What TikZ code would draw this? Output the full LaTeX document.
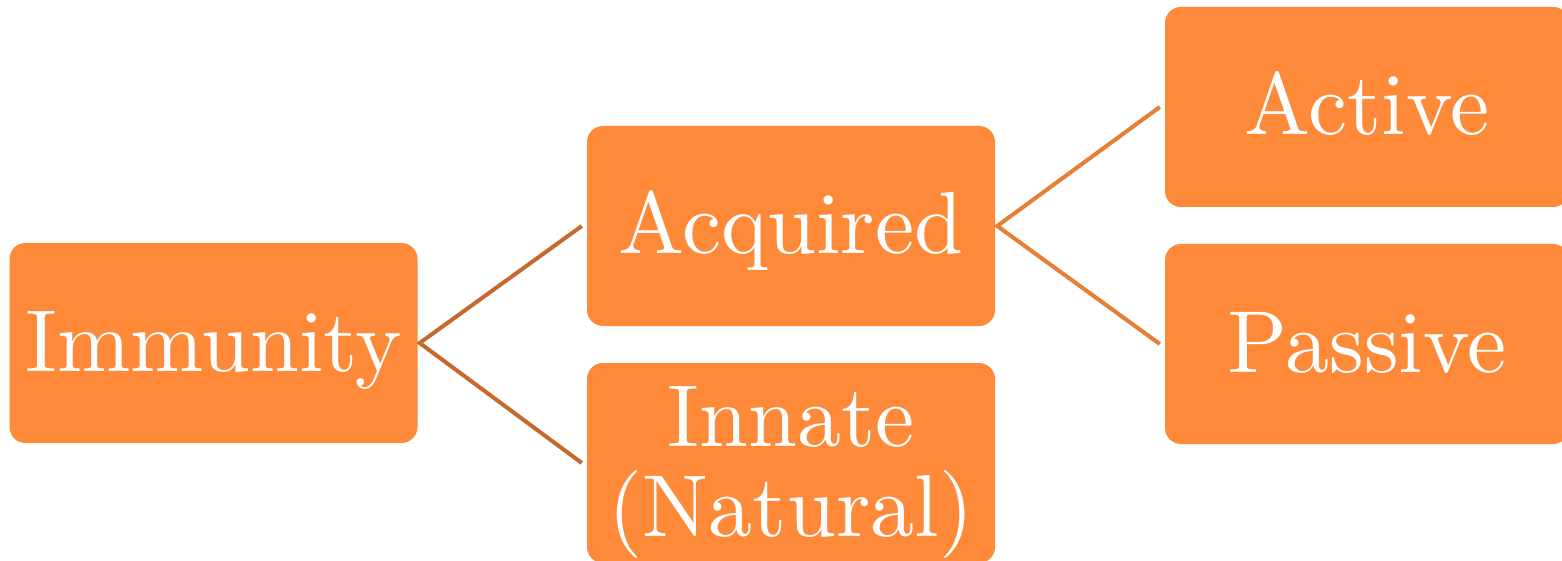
\documentclass[tikz,border=0pt]{standalone}
\usepackage{fontspec}
\usepackage{xcolor}
\usetikzlibrary{calc}
\newfontfamily\boxfont{lmroman10-regular}[Extension=.otf]
\definecolor{boxorange}{HTML}{FD8939}
\definecolor{linkdark}{HTML}{C6692C}
\definecolor{linklight}{HTML}{E67F33}
\tikzset{
 termbox/.style={fill=boxorange, rounded corners=16, minimum width=408, minimum height=200, text=white, align=center, inner sep=0, text height=60, text depth=4, font=\boxfont\fontsize{88}{90}\selectfont},
 link/.style={line width=4}
}

\begin{document}
\begin{tikzpicture} [x=1pt,y=-1pt]
\useasboundingbox (0,0) rectangle (1562,561);
\clip (0,0) rectangle (1562,561);
\node[termbox] (imm) at (213.5,343) {Immunity};
\node[termbox] (acq) at (791,226) {Acquired};
\node[termbox, text height=150] (inn) at (791,463) {Innate\\(Natural)};
\node[termbox, minimum width=404] (act) at (1367,107) {Active};
\node[termbox, minimum width=404] (pas) at (1367,344) {Passive};
\draw[link,linkdark] ([xshift=-5]acq.west) -- ([xshift=2]imm.east) -- ([xshift=-5]inn.west);
\draw[link,linklight] ([xshift=-5]act.west) -- ([xshift=2]acq.east) -- ([xshift=-5]pas.west);
\end{tikzpicture}
\end{document}
